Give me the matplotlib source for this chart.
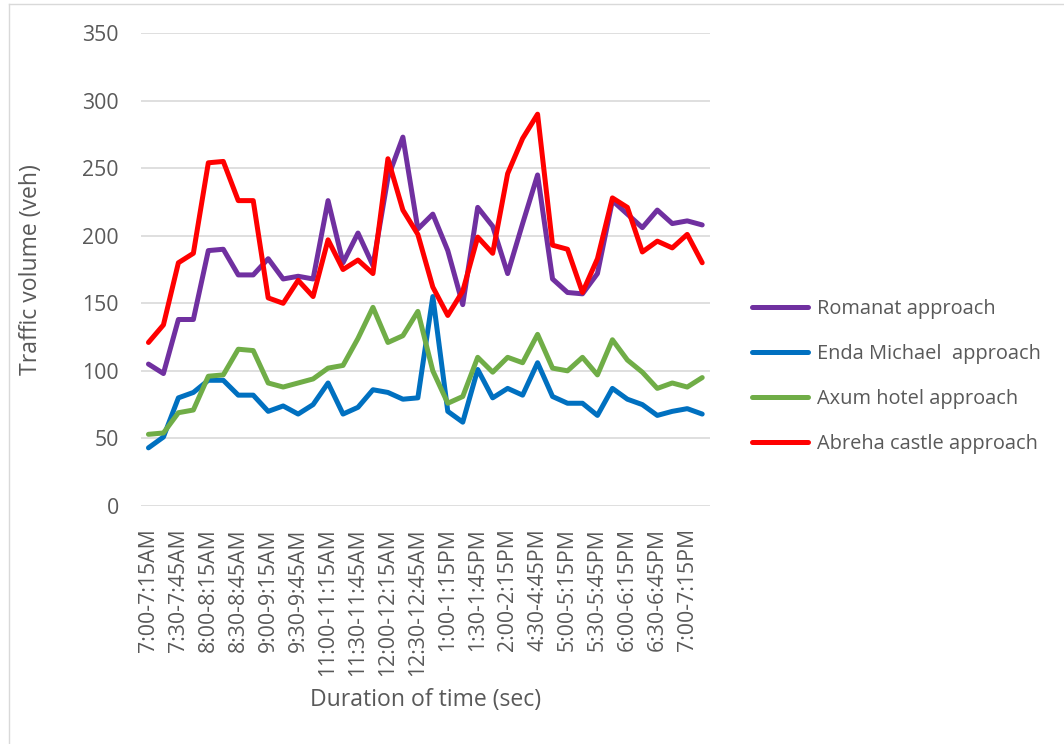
import matplotlib.pyplot as plt
from matplotlib.lines import Line2D

plt.rcParams["font.family"] = ["Open Sans", "DejaVu Sans"]

time_slots = [
    "7:00-7:15AM", "7:15-7:30AM", "7:30-7:45AM", "7:45-8:00AM",
    "8:00-8:15AM", "8:15-8:30AM", "8:30-8:45AM", "8:45-9:00AM",
    "9:00-9:15AM", "9:15-9:30AM", "9:30-9:45AM", "9:45-10:00AM",
    "11:00-11:15AM", "11:15-11:30AM", "11:30-11:45AM", "11:45-12:00AM",
    "12:00-12:15AM", "12:15-12:30AM", "12:30-12:45AM", "12:45-1:00PM",
    "1:00-1:15PM", "1:15-1:30PM", "1:30-1:45PM", "1:45-2:00PM",
    "2:00-2:15PM", "2:15-2:30PM", "4:30-4:45PM", "4:45-5:00PM",
    "5:00-5:15PM", "5:15-5:30PM", "5:30-5:45PM", "5:45-6:00PM",
    "6:00-6:15PM", "6:15-6:30PM", "6:30-6:45PM", "6:45-7:00PM",
    "7:00-7:15PM", "7:15-7:30PM",
]

romanat = [105, 98, 138, 138, 189, 190, 171, 171, 183, 168, 170, 168,
           226, 180, 202, 178, 243, 273, 205, 216, 189, 149, 221, 207,
           172, 209, 245, 168, 158, 157, 172, 226, 216, 206, 219, 209,
           211, 208]
enda_michael = [43, 51, 80, 84, 93, 93, 82, 82, 70, 74, 68, 75,
                91, 68, 73, 86, 84, 79, 80, 155, 70, 62, 101, 80,
                87, 82, 106, 81, 76, 76, 67, 87, 79, 75, 67, 70,
                72, 68]
axum_hotel = [53, 54, 69, 71, 96, 97, 116, 115, 91, 88, 91, 94,
              102, 104, 124, 147, 121, 126, 144, 100, 76, 81, 110, 99,
              110, 106, 127, 102, 100, 110, 97, 123, 108, 99, 87, 91,
              88, 95]
abreha_castle = [121, 134, 180, 187, 254, 255, 226, 226, 154, 150, 167, 155,
                 197, 175, 182, 172, 257, 219, 201, 162, 141, 159, 199, 187,
                 246, 272, 290, 193, 190, 158, 183, 228, 221, 188, 196, 191,
                 201, 180]

series = [
    ("Romanat approach", romanat, "#7030A0"),
    ("Enda Michael  approach", enda_michael, "#0070C0"),
    ("Axum hotel approach", axum_hotel, "#70AD47"),
    ("Abreha castle approach", abreha_castle, "#FF0000"),
]

text_color = "#595959"

fig = plt.figure(figsize=(10.64, 7.44), dpi=100)
ax = fig.add_axes([0.1325, 0.320, 0.5345, 0.6355])

x = range(len(time_slots))
for name, values, color in series:
    ax.plot(x, values, color=color, linewidth=3.6, label=name,
            solid_joinstyle="round", solid_capstyle="round")

ax.set_xlim(-0.5, len(time_slots) - 0.5)
ax.set_ylim(0, 350)
ax.set_yticks(range(0, 351, 50))
ax.set_xticks(list(x)[::2])
ax.set_xticklabels(time_slots[::2], rotation=90, va="top", ha="center")

ax.grid(axis="y", color="#d9d9d9", linewidth=1.2)
ax.set_axisbelow(True)
for side in ["top", "right", "left", "bottom"]:
    ax.spines[side].set_visible(False)
ax.tick_params(axis="both", length=0, labelsize=15.3, colors=text_color)
ax.tick_params(axis="y", pad=16)
ax.tick_params(axis="x", pad=16)

ax.set_ylabel("Traffic volume (veh)", fontsize=16.6, color=text_color)
ax.set_xlabel("Duration of time (sec)", fontsize=16.6, color=text_color)
ax.yaxis.set_label_coords(-0.172, 0.5)
ax.xaxis.set_label_coords(0.5, -0.386)

ax.legend(loc="center left", bbox_to_anchor=(1.042, 0.273), frameon=False,
          fontsize=14.4, labelcolor=text_color, handlelength=2.8,
          handletextpad=0.45, labelspacing=1.25)

# thin frame line along the left and top of the chart area
frame = dict(color="#d9d9d9", linewidth=1, transform=fig.transFigure)
fig.add_artist(Line2D([0.008, 0.008], [0.0, 0.995], **frame))
fig.add_artist(Line2D([0.008, 1.0], [0.995, 0.995], **frame))

fig.savefig("out.png", dpi=100)
